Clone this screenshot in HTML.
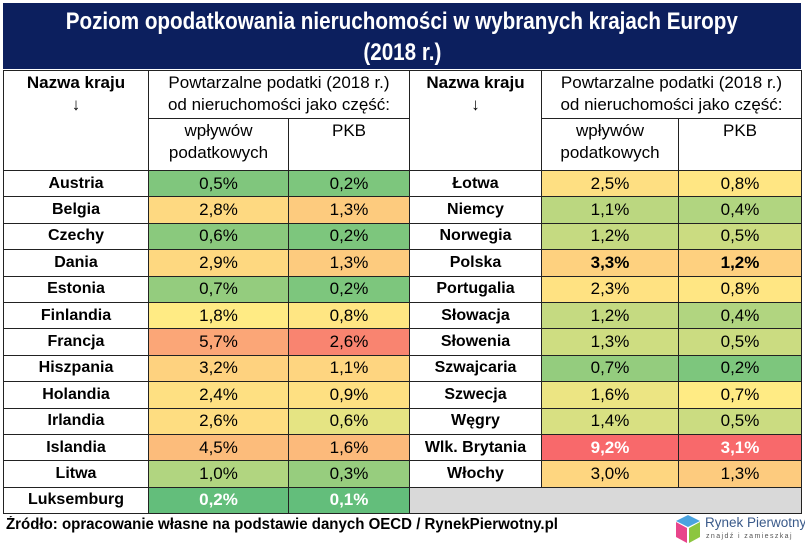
<!DOCTYPE html>
<html><head><meta charset="utf-8">
<style>
body{margin:0;width:805px;height:547px;background:#fff;position:relative;overflow:hidden;font-family:"Liberation Sans",sans-serif;color:#000}
.a{position:absolute;box-sizing:border-box}
#title{left:3px;top:3px;width:798px;height:66px;background:#0c1f5e;color:#fff;font-weight:bold;font-size:24px;line-height:31px;text-align:center;padding-top:3px}
#title span{display:inline-block;transform:scaleX(0.86);white-space:nowrap}
.c{border:1px solid #222;display:flex;align-items:center;justify-content:center;text-align:center;font-size:17px}
.h{align-items:flex-start;line-height:22px;padding-top:1px;font-size:17px}
.n{font-weight:bold;font-size:16px}
#foot{left:6px;top:516px;font-size:15.5px;font-weight:bold;transform:scaleX(0.97);transform-origin:left}
</style></head><body>
<div class="a" id="title"><span>Poziom opodatkowania nieruchomości w wybranych krajach Europy</span><br><span>(2018 r.)</span></div>
<div id="grid"></div>
<div class="a" id="foot">Źródło: opracowanie własne na podstawie danych OECD / RynekPierwotny.pl</div>
<div class="a" style="left:673px;top:513px;width:130px;height:34px">
<svg width="30" height="32" style="position:absolute;left:0;top:0">
<polygon points="15,2 27,8 15,14 3,8" fill="#4aa3df"/>
<polygon points="3,9 14,15 14,30 3,24" fill="#e8458b"/>
<polygon points="16,15 27,9 27,24 16,30" fill="#8cc63f"/>
</svg>
<div class="a" style="left:32px;top:2px;font-size:13.5px;color:#3a5a8a;white-space:nowrap">Rynek Pierwotny</div>
<div class="a" style="left:33px;top:20px;font-size:7px;color:#555;letter-spacing:1.4px;white-space:nowrap">znajdź i zamieszkaj</div>
</div>
<script>
const leftNames=["Austria","Belgia","Czechy","Dania","Estonia","Finlandia","Francja","Hiszpania","Holandia","Irlandia","Islandia","Litwa","Luksemburg"];
const leftRev=[0.5,2.8,0.6,2.9,0.7,1.8,5.7,3.2,2.4,2.6,4.5,1.0,0.2];
const leftGdp=[0.2,1.3,0.2,1.3,0.2,0.8,2.6,1.1,0.9,0.6,1.6,0.3,0.1];
const rightNames=["Łotwa","Niemcy","Norwegia","Polska","Portugalia","Słowacja","Słowenia","Szwajcaria","Szwecja","Węgry","Wlk. Brytania","Włochy"];
const rightRev=[2.5,1.1,1.2,3.3,2.3,1.2,1.3,0.7,1.6,1.4,9.2,3.0];
const rightGdp=[0.8,0.4,0.5,1.2,0.8,0.4,0.5,0.2,0.7,0.5,3.1,1.3];
const g=document.getElementById('grid');
const X=[3,148,288,409,541,678,801],Y0=170,RH=26.4;
function cell(x,y,w,h,txt,cls,bg,color,name,bold){
 const d=document.createElement('div');d.className='a c '+(cls||'');
 d.style.left=x+'px';d.style.top=y+'px';d.style.width=(w+1)+'px';d.style.height=(h+1)+'px';
 if(bg)d.style.background=bg;if(color)d.style.color=color;if(bold)d.style.fontWeight='bold';
 d.innerHTML=txt;
 
 
 g.appendChild(d);
}
function med(a){const s=[...a].sort((p,q)=>p-q);return s[Math.floor(s.length/2)];}
function mix(c1,c2,t){return 'rgb('+c1.map((v,i)=>Math.round(v+(c2[i]-v)*t)).join(',')+')';}
const G=[99,190,123],Yc=[255,235,132],R=[248,105,107];
function scale(all){const mn=Math.min(...all),mx=Math.max(...all),md=med(all);
 return v=>v<=md?mix(G,Yc,(v-mn)/(md-mn||1)):mix(Yc,R,(v-md)/(mx-md||1));}
const sRev=scale(leftRev.concat(rightRev)),sGdp=scale(leftGdp.concat(rightGdp));
const f=v=>v.toFixed(1).replace('.',',')+'%';
for(const k of [0,3]){
 cell(X[k],70,X[k+1]-X[k],100,'Nazwa kraju<br>↓','h',null,null,'country-header',true);
 cell(X[k+1],70,X[k+3]-X[k+1],48,'Powtarzalne podatki (2018 r.)<br>od nieruchomości jako część:','h',null,null,'tax-group-header');
 cell(X[k+1],118,X[k+2]-X[k+1],52,'wpływów<br>podatkowych','h',null,null,'revenue-header');
 cell(X[k+2],118,X[k+3]-X[k+2],52,'PKB','h',null,null,'gdp-header');
}
function rows(names,rev,gdp,k){
 names.forEach((n,i)=>{
  const y=Y0+i*RH,w=(n==='Wlk. Brytania'||n==='Luksemburg'),b=w||n==='Polska';
  cell(X[k],y,X[k+1]-X[k],RH,n,'n',null,null,'country-'+i);
  cell(X[k+1],y,X[k+2]-X[k+1],RH,f(rev[i]),'',sRev(rev[i]),w?'#fff':null,'revenue-value',b);
  cell(X[k+2],y,X[k+3]-X[k+2],RH,f(gdp[i]),'',sGdp(gdp[i]),w?'#fff':null,'gdp-value',b);
 });
}
rows(leftNames,leftRev,leftGdp,0);
rows(rightNames,rightRev,rightGdp,3);
cell(X[3],Y0+12*RH,X[6]-X[3],RH,'','', '#d9d9d9',null,'empty-cell');
</script>
</body></html>
